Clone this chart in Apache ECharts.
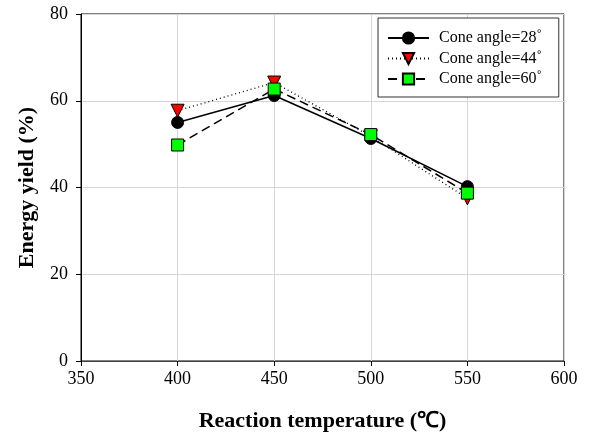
<!DOCTYPE html>
<html>
<head>
<meta charset="utf-8">
<script src="https://cdn.jsdelivr.net/npm/echarts@6/dist/echarts.min.js"></script>
<style>html,body{margin:0;padding:0;background:#fff}#c{width:591px;height:437px}</style>
</head>
<body>
<div id="c"></div>
<script>
var temperatures = [400, 450, 500, 550];
var cone28 = [55.0, 61.2, 51.3, 40.2];
var cone44 = [57.7, 64.2, 51.8, 37.5];
var cone60 = [49.8, 62.7, 52.2, 38.7];
var seriesNames = ['Cone angle=28˚', 'Cone angle=44˚', 'Cone angle=60˚'];
var xTicks = [350, 400, 450, 500, 550, 600];
var yTicks = [0, 20, 40, 60, 80];

function pairs(vals) { return temperatures.map(function (t, i) { return [t, vals[i]]; }); }

var font = 'Liberation Serif';
var chart = echarts.init(document.getElementById('c'));
chart.setOption({
  animation: false,
  grid: { left: 81, right: 27, top: 14, bottom: 76, show: true, borderColor: '#000', borderWidth: 1 },
  xAxis: {
    type: 'value', min: xTicks[0], max: xTicks[xTicks.length - 1], interval: 50,
    name: 'Reaction temperature (℃)', nameLocation: 'middle', nameGap: 49,
    nameTextStyle: { fontFamily: font, fontSize: 22, fontWeight: 'bold', color: '#000' },
    axisLine: { lineStyle: { color: '#444', width: 1 } },
    axisTick: { show: true, inside: false, length: 5, lineStyle: { color: '#000' } },
    axisLabel: { fontFamily: font, fontSize: 18, color: '#000', margin: 9 },
    splitLine: { show: true, lineStyle: { color: '#d6d6d6', width: 1 } }
  },
  yAxis: {
    type: 'value', min: yTicks[0], max: yTicks[yTicks.length - 1], interval: 20,
    name: 'Energy yield (%)', nameLocation: 'middle', nameGap: 43,
    nameTextStyle: { fontFamily: font, fontSize: 22, fontWeight: 'bold', color: '#000' },
    axisLine: { show: true, lineStyle: { color: '#000', width: 1 } },
    axisTick: { show: true, inside: false, length: 5, lineStyle: { color: '#000' } },
    axisLabel: { fontFamily: font, fontSize: 18, color: '#000', margin: 13 },
    splitLine: { show: true, lineStyle: { color: '#d6d6d6', width: 1 } }
  },
  legend: {
    left: 378, top: 18,
    orient: 'vertical',
    backgroundColor: '#fff',
    borderColor: '#333', borderWidth: 1,
    padding: [12, 17, 10, 9],
    itemWidth: 41, itemHeight: 14, itemGap: 4.5,
    textStyle: { fontFamily: font, fontSize: 16, lineHeight: 16, color: '#000', padding: [0, 0, 0, 5] },
    data: seriesNames
  },
  series: [
    {
      name: seriesNames[0], type: 'line', data: pairs(cone28),
      symbol: 'circle', symbolSize: 12,
      itemStyle: { color: '#000', borderColor: '#000', borderWidth: 1 },
      lineStyle: { color: '#000', width: 1.5, type: 'solid' }
    },
    {
      name: seriesNames[1], type: 'line', data: pairs(cone44),
      symbol: 'triangle', symbolRotate: 180, symbolSize: 13,
      itemStyle: { color: '#ff0000', borderColor: '#000', borderWidth: 1 },
      lineStyle: { color: '#000', width: 1.3, type: [1, 3] }
    },
    {
      name: seriesNames[2], type: 'line', data: pairs(cone60),
      symbol: 'rect', symbolSize: 12,
      itemStyle: { color: '#00ff00', borderColor: '#000', borderWidth: 1 },
      lineStyle: { color: '#000', width: 1.5, type: [9, 5] }
    }
  ]
});
</script>
</body>
</html>
